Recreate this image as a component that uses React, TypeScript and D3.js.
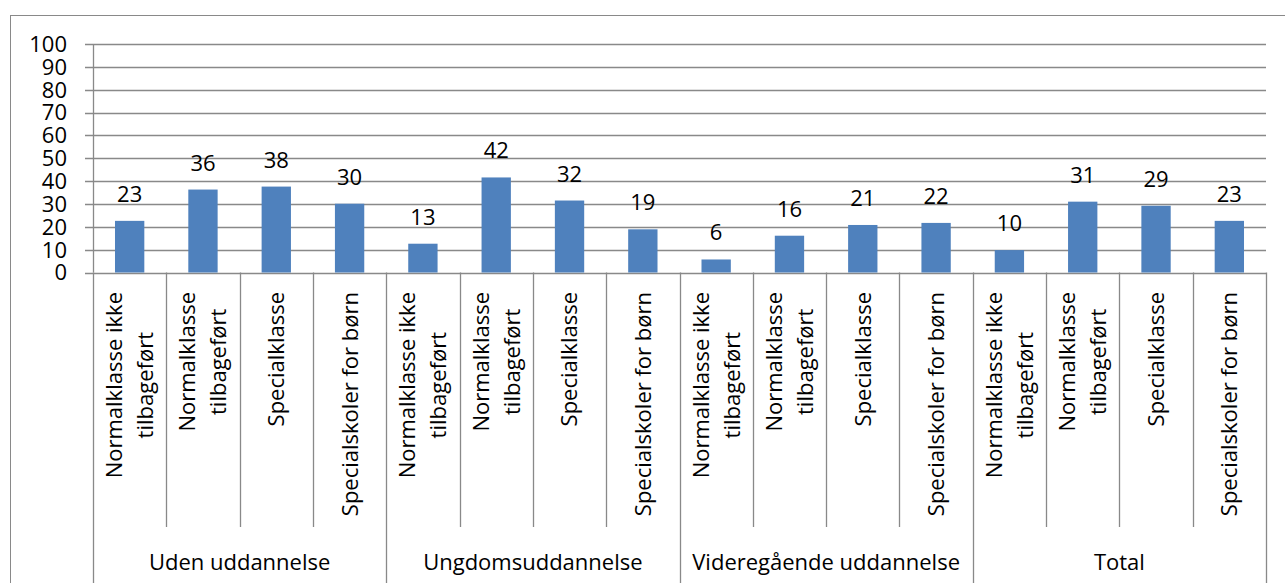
import { useEffect, useRef } from 'react';
import * as d3 from 'd3';

const GROUPS = ['Uden uddannelse', 'Ungdomsuddannelse', 'Videregående uddannelse', 'Total'];
const SUBCATEGORIES = [
  ['Normalklasse ikke', 'tilbageført'],
  ['Normalklasse', 'tilbageført'],
  ['Specialklasse'],
  ['Specialskoler for børn'],
];
const UDEN_VALUES = [22.6, 36.3, 37.6, 30.1];
const UNGDOM_VALUES = [12.6, 41.6, 31.5, 18.9];
const VIDEREG_VALUES = [5.7, 16.1, 20.8, 21.7];
const TOTAL_VALUES = [9.8, 31.0, 29.2, 22.6];
const Y_TICKS = [0, 10, 20, 30, 40, 50, 60, 70, 80, 90, 100];

const W = 1285;
const H = 583;
const FONT = '"Open Sans", sans-serif';
const BAR_COLOR = '#4F81BD';
const LINE_COLOR = '#898989';

export default function App() {
  const svgRef = useRef<SVGSVGElement>(null);

  useEffect(() => {
    const svg = d3.select(svgRef.current);
    svg.selectAll('*').remove();

    const seriesByGroup = [UDEN_VALUES, UNGDOM_VALUES, VIDEREG_VALUES, TOTAL_VALUES];
    const rows = seriesByGroup.flatMap((vals, g) =>
      vals.map((v, s) => ({ key: `${g}-${s}`, group: g, sub: s, value: v }))
    );

    const left = 93;
    const right = 1266;
    const top = 44;
    const bottom = 272.5;

    const x = d3.scaleBand().domain(rows.map((d) => d.key)).range([left, right]).padding(0);
    const xGroup = d3.scaleBand().domain(GROUPS).range([left, right]).padding(0);
    const y = d3.scaleLinear().domain([0, 100]).range([bottom, top]);
    const barW = x.bandwidth() * 0.4;

    // outer frame
    svg
      .append('rect')
      .attr('x', 10.5)
      .attr('y', 15.5)
      .attr('width', W)
      .attr('height', H)
      .attr('fill', 'white')
      .attr('stroke', LINE_COLOR);

    // gridlines + ticks
    svg
      .append('g')
      .selectAll('line')
      .data(Y_TICKS)
      .enter()
      .append('line')
      .attr('x1', left - 8)
      .attr('x2', right)
      .attr('y1', (d) => Math.round(y(d)) + 0.5)
      .attr('y2', (d) => Math.round(y(d)) + 0.5)
      .attr('stroke', LINE_COLOR)
      .attr('stroke-width', 1.3);

    svg
      .append('g')
      .selectAll('text')
      .data(Y_TICKS)
      .enter()
      .append('text')
      .attr('x', 67)
      .attr('y', (d) => y(d))
      .attr('dy', '0.36em')
      .attr('text-anchor', 'end')
      .attr('font-family', FONT)
      .attr('font-size', 22)
      .attr('fill', '#000')
      .text((d) => d);

    // y axis
    svg
      .append('line')
      .attr('x1', left + 0.5)
      .attr('x2', left + 0.5)
      .attr('y1', y(100))
      .attr('y2', y(0))
      .attr('stroke', LINE_COLOR)
      .attr('stroke-width', 1.3);

    // category separators
    const boundaries = rows.map((d) => x(d.key) as number).concat([right]);
    svg
      .append('g')
      .selectAll('line')
      .data(boundaries)
      .enter()
      .append('line')
      .attr('x1', (d) => Math.round(d) + 0.5)
      .attr('x2', (d) => Math.round(d) + 0.5)
      .attr('y1', bottom)
      .attr('y2', (d, i) => (i % 4 === 0 ? H : 527))
      .attr('stroke', LINE_COLOR)
      .attr('stroke-width', 1.3);

    // bars
    svg
      .append('g')
      .selectAll('rect')
      .data(rows)
      .enter()
      .append('rect')
      .attr('x', (d) => (x(d.key) as number) + (x.bandwidth() - barW) / 2)
      .attr('width', barW)
      .attr('y', (d) => y(d.value))
      .attr('height', (d) => y(0) - y(d.value))
      .attr('fill', BAR_COLOR);

    // value labels
    svg
      .append('g')
      .selectAll('text')
      .data(rows)
      .enter()
      .append('text')
      .attr('x', (d) => (x(d.key) as number) + x.bandwidth() / 2)
      .attr('y', (d) => y(d.value) - 19)
      .attr('text-anchor', 'middle')
      .attr('font-family', FONT)
      .attr('font-size', 22)
      .attr('fill', '#000')
      .text((d) => Math.round(d.value));

    // rotated category labels (block top-aligned, lines centred)
    const labelTop = 292;
    const lineGap = 31;
    rows.forEach((d) => {
      const lines = SUBCATEGORIES[d.sub];
      const cx = (x(d.key) as number) + x.bandwidth() / 2;
      const g = svg.append('g').attr('transform', `translate(${cx},${labelTop}) rotate(-90)`);
      const texts = lines.map((line, i) =>
        g
          .append('text')
          .attr('y', (i - (lines.length - 1) / 2) * lineGap)
          .attr('dy', '0.36em')
          .attr('text-anchor', 'middle')
          .attr('font-family', FONT)
          .attr('font-size', 22)
          .attr('fill', '#000')
          .text(line)
      );
      const maxLen = d3.max(texts, (t) => (t.node() as SVGTextElement).getComputedTextLength()) ?? 0;
      texts.forEach((t) => t.attr('x', -maxLen / 2));
    });

    // group labels
    svg
      .append('g')
      .selectAll('text')
      .data(GROUPS)
      .enter()
      .append('text')
      .attr('x', (d) => (xGroup(d) as number) + xGroup.bandwidth() / 2)
      .attr('y', 570)
      .attr('text-anchor', 'middle')
      .attr('font-family', FONT)
      .attr('font-size', 22)
      .attr('fill', '#000')
      .text((d) => d);
  }, []);

  return (
    <div style={{ position: 'absolute', left: 0, top: 0, width: W, height: H, background: '#fff' }}>
      <svg ref={svgRef} width={W} height={H} style={{ display: 'block' }} />
    </div>
  );
}
